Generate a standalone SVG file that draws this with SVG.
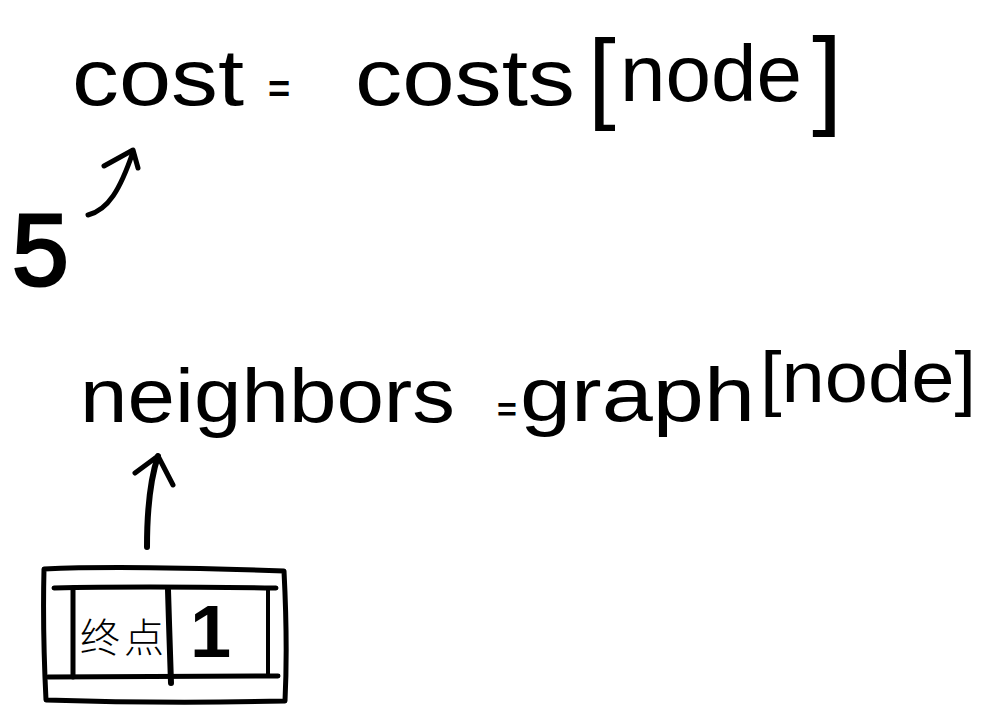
<svg xmlns="http://www.w3.org/2000/svg" width="988" height="709" viewBox="0 0 988 709">
<style>
.t{font-family:"Liberation Sans","Noto Sans CJK SC",sans-serif;fill:#000}
.s{fill:none;stroke:#000;stroke-linecap:round;stroke-linejoin:round}
</style>
<rect width="988" height="709" fill="#fff"/>
<g id="cost-line">
<text class="t" x="72" y="105" font-size="80" textLength="172" lengthAdjust="spacingAndGlyphs">cost</text>
<text class="t" x="268" y="102" font-size="38" font-weight="bold">=</text>
<text class="t" x="355" y="105" font-size="80" textLength="220" lengthAdjust="spacingAndGlyphs">costs</text>
<text class="t" x="588" y="110" font-size="100">[</text>
<text class="t" x="620" y="101" font-size="80" textLength="182" lengthAdjust="spacingAndGlyphs">node</text>
<text class="t" x="812" y="114" font-size="110">]</text>
</g>
<g id="five">
<text class="t" x="12" y="285" font-size="102" stroke="#000" stroke-width="3">5</text>
</g>
<g id="neighbors-line">
<text class="t" x="80" y="422" font-size="76" textLength="375" lengthAdjust="spacingAndGlyphs">neighbors</text>
<text class="t" x="497" y="421" font-size="34" font-weight="bold">=</text>
<text class="t" x="520" y="421" font-size="76" textLength="235" lengthAdjust="spacingAndGlyphs">graph</text>
<text class="t" x="760" y="402" font-size="72" textLength="216" lengthAdjust="spacingAndGlyphs">[node]</text>
</g>
<g id="node-box">
<path class="s" stroke-width="5" d="M44,569 C110,566 200,568 284,571 C286,610 287,660 285,701 C200,703 110,702 46,700 C44,660 43,610 44,569 Z"/>
<path class="s" stroke-width="5" d="M54,588 C130,586 210,587 276,588"/>
<path class="s" stroke-width="5" d="M48,677 C130,676 210,676 278,676"/>
<path class="s" stroke-width="5" d="M73,588 L73,677"/>
<path class="s" stroke-width="4" d="M268,588 L268,676"/>
<path class="s" stroke-width="6" d="M168,590 C169,620 170,660 171,683"/>
<text class="t" x="80" y="652" font-size="40" font-weight="300" textLength="84" lengthAdjust="spacing">终点</text>
<text class="t" x="190" y="657" font-size="74" font-weight="bold">1</text>
</g>
<g id="connectors">
<path class="s" stroke-width="5" d="M88,215 C108,210 120,190 133,152"/>
<path class="s" stroke-width="5" d="M104,166 L133,150 L138,168"/>
<path class="s" stroke-width="6" d="M147,547 C147,510 150,480 158,456"/>
<path class="s" stroke-width="5" d="M135,473 L158,456 L173,485"/>
</g>
</svg>
